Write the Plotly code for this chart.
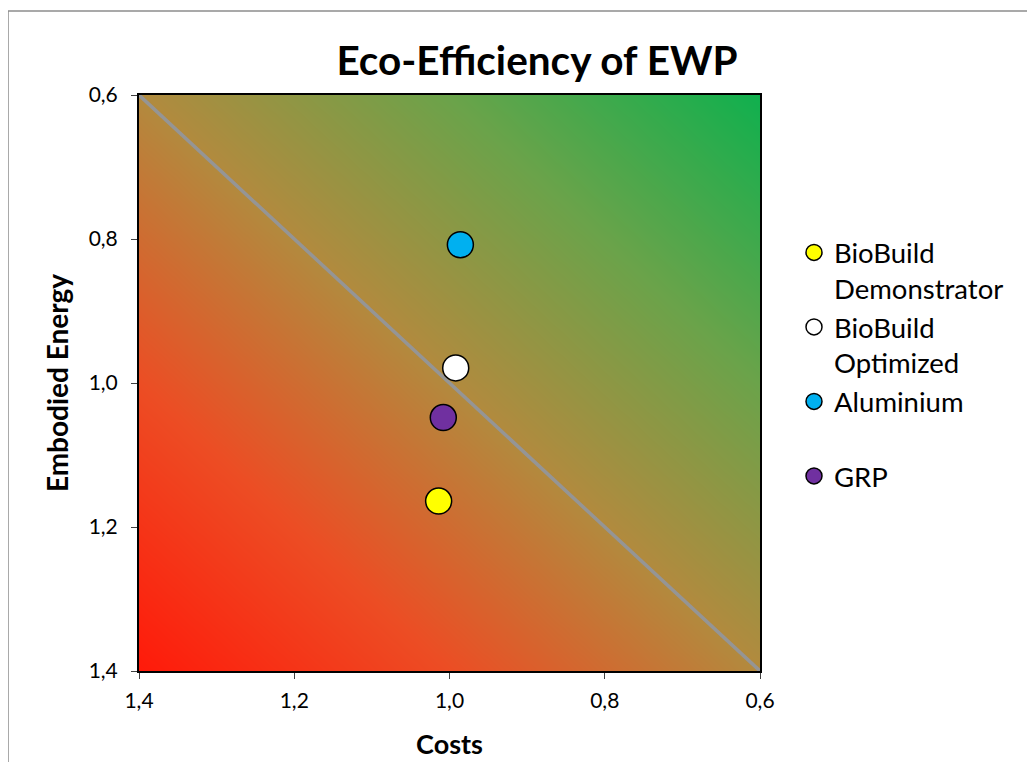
import numpy as np
import plotly.graph_objects as go

# ---- data ----
series_names = ["BioBuild<br>Demonstrator", "BioBuild<br>Optimized", "Aluminium<br> ", "GRP"]
costs = [1.014, 0.992, 0.986, 1.008]
embodied_energy = [1.164, 0.979, 0.808, 1.048]
marker_colors = ["#ffff00", "#ffffff", "#00b0f0", "#7030a0"]

axis_min, axis_max = 0.6, 1.4
tick_vals = [0.6, 0.8, 1.0, 1.2, 1.4]

FONT = "Lato"
OFF = 8  # page body margin

fig = go.Figure()

# background gradient (red bottom-left -> green top-right)
n = 120
gx = np.linspace(axis_max, axis_min, n)
gy = np.linspace(axis_min, axis_max, n)
GX, GY = np.meshgrid(gx, gy)
tval = ((axis_max - GX) + (axis_max - GY)) / (2 * (axis_max - axis_min))
fig.add_trace(go.Heatmap(
    x=gx, y=gy, z=tval, zmin=0, zmax=1, zsmooth="best",
    colorscale=[[0.0, "#ff1a0a"], [0.25, "#ec4d24"], [0.5, "#b28a3e"],
                [0.75, "#6aa34a"], [1.0, "#10b04e"]],
    showscale=False, hoverinfo="skip", showlegend=False,
))

# diagonal reference line
fig.add_trace(go.Scatter(
    x=[axis_max, axis_min], y=[axis_min, axis_max], mode="lines",
    line=dict(color="#959595", width=3.5), showlegend=False, hoverinfo="skip",
))

for name, cx, ey, col in zip(series_names, costs, embodied_energy, marker_colors):
    fig.add_trace(go.Scatter(
        x=[cx], y=[ey], mode="markers", name=name,
        marker=dict(size=26, color=col, line=dict(color="#000000", width=1.5)),
    ))

W, H = 1035, 762
px_l, px_r, px_t, px_b = 139 - OFF, 760 - OFF, 95 - OFF, 671 - OFF


def paper_x(p):
    return (p - OFF - px_l) / (px_r - px_l)


def paper_y(p):
    return (px_b - (p - OFF)) / (px_b - px_t)


axis_common = dict(
    range=[axis_max, axis_min], tickvals=tick_vals, tickformat=".1f",
    ticks="outside", ticklen=6, tickwidth=1, tickcolor="#404040",
    showline=True, linecolor="#000000", linewidth=2, mirror=True,
    showgrid=False, zeroline=False,
    tickfont=dict(family=FONT, size=21, color="#000000"),
)

fig.update_layout(
    width=W, height=H,
    margin=dict(l=px_l, r=W - px_r, t=px_t, b=H - px_b, autoexpand=False),
    paper_bgcolor="#ffffff", plot_bgcolor="#ffffff",
    separators=",.",
    font=dict(family=FONT, color="#000000"),
    title=dict(text="<b>Eco-Efficiency of EWP</b>", xref="container", yref="container",
               x=(537 - OFF) / W, xanchor="center", y=1 - (61 - OFF) / H, yanchor="middle",
               font=dict(family=FONT, size=40.5, color="#000000")),
    xaxis=dict(**axis_common, ticklabelstandoff=4,
               title=dict(text="<b>Costs</b>", standoff=24,
                          font=dict(family=FONT, size=27, color="#000000"))),
    yaxis=dict(**axis_common, ticklabelstandoff=9,
               title=dict(text="<b>Embodied Energy</b>", standoff=12,
                          font=dict(family=FONT, size=28, color="#000000"))),
    legend=dict(x=paper_x(794), y=paper_y(228), xanchor="left", yanchor="top",
                valign="top", font=dict(family=FONT, size=27.5, color="#000000"),
                bgcolor="rgba(0,0,0,0)", tracegroupgap=0, itemwidth=30),
    showlegend=True,
    shapes=[
        dict(type="line", xref="paper", yref="paper",
             x0=paper_x(8), x1=paper_x(8), y0=paper_y(11), y1=paper_y(800),
             line=dict(color="#8c8c8c", width=1.5)),
        dict(type="line", xref="paper", yref="paper",
             x0=paper_x(8), x1=paper_x(1100), y0=paper_y(11), y1=paper_y(11),
             line=dict(color="#8c8c8c", width=1.5)),
    ],
)

fig.write_html("out.html")
